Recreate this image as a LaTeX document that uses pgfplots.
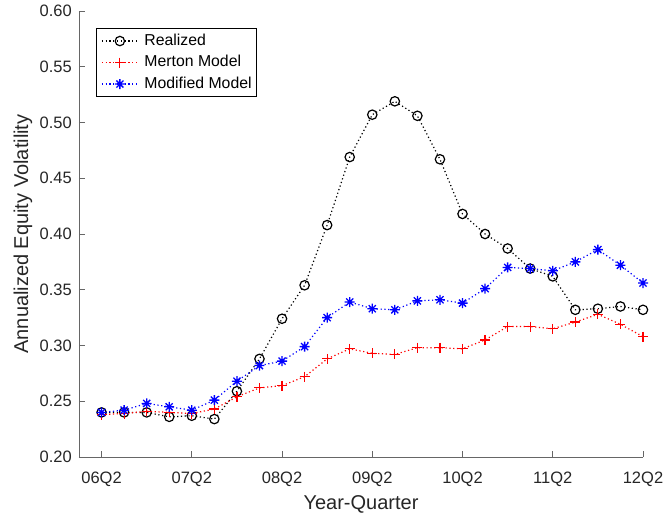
\documentclass[border=0pt]{standalone}
\usepackage{fontspec}
\setmainfont{Liberation Sans}
\usepackage{pgfplots}
\usepackage{pgfplotstable}
\pgfplotsset{compat=1.18}

\pgfdeclareplotmark{mstar}{%
  \pgfpathmoveto{\pgfqpoint{-\pgfplotmarksize}{0pt}}\pgfpathlineto{\pgfqpoint{\pgfplotmarksize}{0pt}}%
  \pgfpathmoveto{\pgfqpoint{0pt}{-\pgfplotmarksize}}\pgfpathlineto{\pgfqpoint{0pt}{\pgfplotmarksize}}%
  \pgfpathmoveto{\pgfqpoint{-0.707\pgfplotmarksize}{-0.707\pgfplotmarksize}}\pgfpathlineto{\pgfqpoint{0.707\pgfplotmarksize}{0.707\pgfplotmarksize}}%
  \pgfpathmoveto{\pgfqpoint{-0.707\pgfplotmarksize}{0.707\pgfplotmarksize}}\pgfpathlineto{\pgfqpoint{0.707\pgfplotmarksize}{-0.707\pgfplotmarksize}}%
  \pgfusepathqstroke}

\pgfplotstableread{
x y
0 0.240
1 0.240
2 0.240
3 0.236
4 0.237
5 0.234
6 0.259
7 0.288
8 0.324
9 0.354
10 0.408
11 0.469
12 0.507
13 0.519
14 0.506
15 0.467
16 0.418
17 0.400
18 0.387
19 0.369
20 0.362
21 0.332
22 0.333
23 0.335
24 0.332
}\realized

\pgfplotstableread{
x y
0 0.238
1 0.239
2 0.241
3 0.240
4 0.239
5 0.243
6 0.254
7 0.262
8 0.264
9 0.272
10 0.288
11 0.297
12 0.293
13 0.292
14 0.298
15 0.298
16 0.297
17 0.305
18 0.317
19 0.317
20 0.315
21 0.321
22 0.328
23 0.319
24 0.308
}\merton

\pgfplotstableread{
x y
0 0.240
1 0.242
2 0.248
3 0.245
4 0.242
5 0.251
6 0.268
7 0.282
8 0.286
9 0.299
10 0.325
11 0.339
12 0.333
13 0.332
14 0.340
15 0.341
16 0.338
17 0.351
18 0.370
19 0.369
20 0.367
21 0.375
22 0.386
23 0.372
24 0.356
}\modified

\begin{document}
\begin{tikzpicture}
\begin{axis}[
  scale only axis, width=564pt, height=446pt,
  xmin=-1, xmax=24, ymin=0.2, ymax=0.6,
  clip=false,
  axis lines*=left,
  axis line style={black!60, line width=0.8pt},
  every tick/.style={black!60, line width=0.8pt},
  tick align=inside,
  major tick length=6pt,
  xtick={0,4,8,12,16,20,24},
  xticklabels={06Q2,07Q2,08Q2,09Q2,10Q2,11Q2,12Q2},
  ytick={0.2,0.25,0.3,0.35,0.4,0.45,0.5,0.55,0.6},
  /pgf/number format/assume math mode=true,
  yticklabel={\pgfmathprintnumber[fixed,fixed zerofill,precision=2,assume math mode=true]{\tick}},
  xticklabel style={font=\fontsize{16.5}{18}\selectfont, text=black!85, anchor=base, inner sep=0pt, yshift=-26pt},
  yticklabel style={font=\fontsize{16.5}{18}\selectfont, text=black!85, anchor=east, inner sep=0pt, xshift=-7pt},
  xlabel={Year-Quarter},
  ylabel={Annualized Equity Volatility},
  xlabel style={font=\fontsize{20}{22}\selectfont, text=black!85, at={(axis description cs:0.5,-0.1188)}, anchor=base, inner sep=0pt},
  ylabel style={font=\fontsize{20}{22}\selectfont, text=black!85, at={(axis description cs:-0.0904,0.5)}, anchor=base, inner sep=0pt},
  legend style={at={(axis description cs:0.0301,0.9619)}, anchor=north west,
    draw=black, line width=0.6pt, fill=white,
    font=\fontsize{15.8}{17}\selectfont,
    inner xsep=5pt, inner ysep=5.5pt, row sep=7pt,
    nodes={inner sep=0pt, text height=11.5pt, text depth=3pt},
    /tikz/every odd column/.append style={column sep=6pt}},
  legend cell align=left,
  legend image code/.code={\draw[mark repeat=2,mark phase=2,#1] plot coordinates {(0pt,0pt) (18pt,0pt) (36pt,0pt)};},
]
\addplot[black, line width=1.2pt, dash pattern=on 1.2pt off 2.6pt, mark=o, mark size=4.7pt, mark options={solid, line width=1.2pt}] table[x=x,y=y] {\realized};
\addlegendentry{Realized}
\addplot[red, line width=1.2pt, dash pattern=on 1.2pt off 2.6pt, mark=+, mark size=5pt, mark options={solid, line width=1.2pt}] table[x=x,y=y] {\merton};
\addlegendentry{Merton Model}
\addplot[blue, line width=1.2pt, dash pattern=on 1.2pt off 2.6pt, mark=mstar, mark size=5pt, mark options={solid, line width=1.3pt}] table[x=x,y=y] {\modified};
\addlegendentry{Modified Model}
\coordinate (sw) at (axis cs:-1,0.2);
\coordinate (ne) at (axis cs:24,0.6);
\end{axis}
\pgfresetboundingbox
\path[use as bounding box] ([shift={(-79pt,-62pt)}]sw) rectangle ([shift={(23pt,11pt)}]ne);
\end{tikzpicture}
\end{document}
